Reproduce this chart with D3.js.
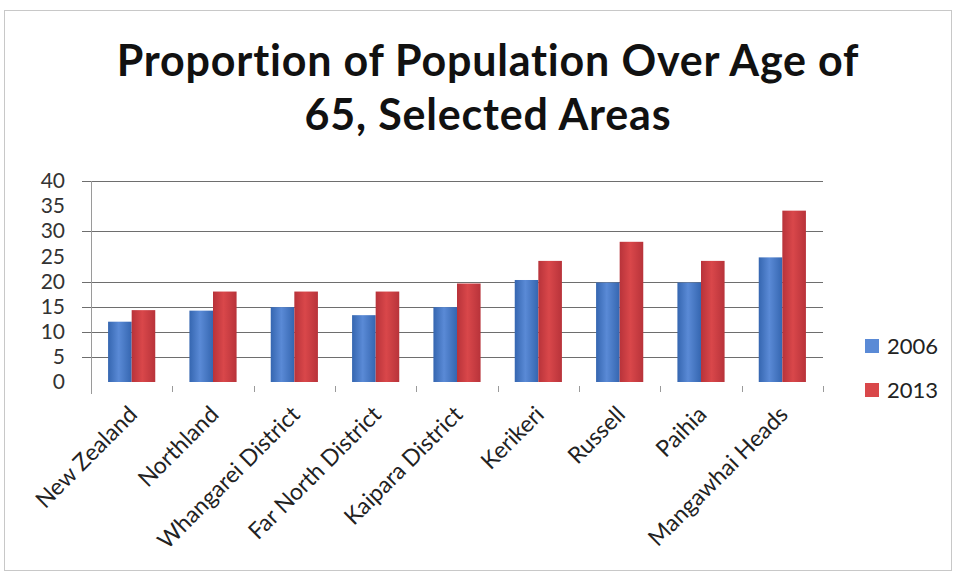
<!DOCTYPE html>
<html>
<head>
<meta charset="utf-8">
<script src="https://cdn.jsdelivr.net/npm/d3@7"></script>
<style>
  html, body { margin: 0; padding: 0; background: #fff; }
  svg { display: block; }
</style>
</head>
<body>
<svg id="chart" width="957" height="581"></svg>
<script>
// Share of population aged 65+, by area (percent)
const areas = ["New Zealand", "Northland", "Whangarei District", "Far North District",
  "Kaipara District", "Kerikeri", "Russell", "Paihia", "Mangawhai Heads"];
const values2006 = [12.0, 14.2, 14.9, 13.3, 14.9, 20.3, 19.8, 19.8, 24.8];
const values2013 = [14.3, 18.0, 18.0, 18.0, 19.6, 24.1, 27.9, 24.1, 34.1];
const seriesNames = ["2006", "2013"];
const yTicks = [0, 5, 10, 15, 20, 25, 30, 35, 40];
const gridValues = [5, 10, 15, 20, 30, 40];
const titleLines = ["Proportion of Population Over Age of", "65, Selected Areas"];

const W = 957, H = 581;
const margin = { left: 91, right: 134, top: 181, bottom: 199 };
const svg = d3.select("#chart");
const font = "Lato, 'Open Sans', sans-serif";

// outer frame
svg.append("rect").attr("x", 4.5).attr("y", 10.5).attr("width", W - 10).attr("height", 560)
  .attr("fill", "#fff").attr("stroke", "#c8c8c8");

const x0 = d3.scaleBand().domain(areas).range([margin.left, W - margin.right]).paddingInner(0.42).paddingOuter(0.21);
const x1 = d3.scaleBand().domain(seriesNames).range([0, x0.bandwidth()]);
const xOuter = d3.scaleBand().domain(areas).range([margin.left, W - margin.right]);
const y = d3.scaleLinear().domain([0, 40]).range([H - margin.bottom, margin.top]);

// gridlines
svg.append("g").selectAll("line").data(gridValues).join("line")
  .attr("x1", margin.left - 9).attr("x2", W - margin.right)
  .attr("y1", d => Math.round(y(d)) + 0.5).attr("y2", d => Math.round(y(d)) + 0.5)
  .attr("stroke", "#6e6e6e").attr("stroke-width", 1.2);

// y axis
const yAxis = svg.append("g").attr("transform", `translate(${margin.left},0)`)
  .call(d3.axisLeft(y).tickValues(yTicks).tickSize(0).tickPadding(26));
yAxis.select(".domain").attr("stroke", "#9a9a9a").attr("d", `M0.5,${y(40)}V${y(0) + 12}`);
yAxis.selectAll("text").attr("font-family", font).attr("font-size", 21).attr("fill", "#333");

// category ticks below baseline
svg.append("g").selectAll("line").data(areas).join("line")
  .attr("x1", d => Math.round(xOuter(d) + xOuter.bandwidth()) + 0.5)
  .attr("x2", d => Math.round(xOuter(d) + xOuter.bandwidth()) + 0.5)
  .attr("y1", y(0) + 4).attr("y2", y(0) + 10)
  .attr("stroke", "#9a9a9a");

// bar gradients
const defs = svg.append("defs");
const colors = { "2006": ["#3566b0", "#5a8ad6"], "2013": ["#b8333a", "#d9474a"] };
seriesNames.forEach(s => {
  const g = defs.append("linearGradient").attr("id", "g" + s).attr("x1", 0).attr("x2", 1).attr("y1", 0).attr("y2", 0);
  g.append("stop").attr("offset", "0%").attr("stop-color", colors[s][0]);
  g.append("stop").attr("offset", "45%").attr("stop-color", colors[s][1]);
  g.append("stop").attr("offset", "100%").attr("stop-color", colors[s][0]);
});

const rows = areas.map((a, i) => ({ area: a, vals: [values2006[i], values2013[i]] }));
svg.append("g").selectAll("g").data(rows).join("g")
  .attr("transform", d => `translate(${x0(d.area)},0)`)
  .selectAll("rect").data(d => d.vals.map((v, j) => ({ s: seriesNames[j], v })))
  .join("rect")
  .attr("x", d => x1(d.s)).attr("width", x1.bandwidth())
  .attr("y", d => y(d.v)).attr("height", d => y(0) - y(d.v))
  .attr("fill", d => `url(#g${d.s})`);

// category labels
svg.append("g").selectAll("text").data(areas).join("text")
  .attr("transform", d => `translate(${xOuter(d) + xOuter.bandwidth() / 2 + 7},${y(0) + 34}) rotate(-45)`)
  .attr("text-anchor", "end")
  .attr("font-family", font).attr("font-size", 23).attr("fill", "#222")
  .text(d => d);

// title
svg.append("g").selectAll("text").data(titleLines).join("text")
  .attr("x", 488).attr("y", (d, i) => 76 + i * 54)
  .attr("text-anchor", "middle")
  .attr("font-family", font).attr("font-weight", "bold").attr("font-size", 43)
  .attr("letter-spacing", 0.8).attr("fill", "#111")
  .text(d => d);

// legend
const legend = svg.append("g").selectAll("g").data(seriesNames).join("g")
  .attr("transform", (d, i) => `translate(865,${346 + i * 44})`);
legend.append("rect").attr("x", 0).attr("y", -7).attr("width", 14).attr("height", 14)
  .attr("fill", d => colors[d][1]);
legend.append("text").attr("x", 22).attr("y", 8)
  .attr("font-family", font).attr("font-size", 22).attr("fill", "#222")
  .text(d => d);
</script>
</body>
</html>
